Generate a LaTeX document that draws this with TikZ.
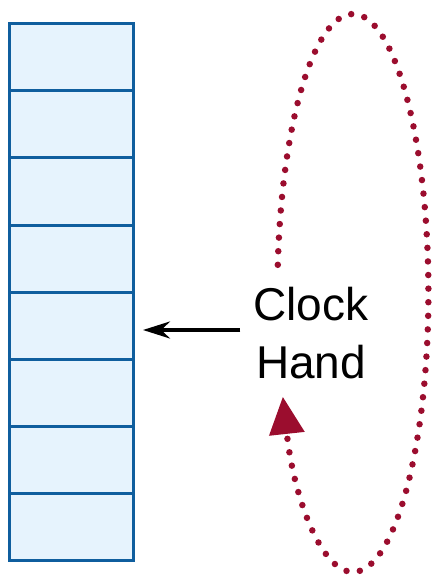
\documentclass[tikz,border=0pt]{standalone}
\usepackage{fontspec}
\setmainfont{Liberation Sans}
\usepackage{xcolor}
\usepackage{tikz}
\usetikzlibrary{positioning,arrows.meta,calc}
\definecolor{slotblue}{HTML}{0F5E9E}
\definecolor{slotfill}{HTML}{E6F3FD}
\definecolor{handred}{HTML}{9B0D2E}

\begin{document}
\begin{tikzpicture}[
  x=1pt, y=-1pt,
  slot/.style={rectangle, draw=slotblue, fill=slotfill, line width=3pt,
               minimum width=124pt, minimum height=67pt, outer sep=0pt,
               inner sep=0pt},
  handlabel/.style={align=center, inner xsep=13pt, inner ysep=0pt,
                    font=\fontsize{46}{58}\selectfont},
  dotpath/.style={draw=handred, line width=6.5pt, line cap=round,
                  dash pattern=on 0pt off 13.6pt},
  >=Stealth
]
  \useasboundingbox (0,0) rectangle (436,577);

  % the table of slots
  \node[slot, anchor=north west] (slot1) at (9,24) {};
  \foreach \i [count=\j from 1] in {2,...,8}
    \node[slot, below=0pt of slot\j] (slot\i) {};

  % hand and the pointer
  \node[handlabel] (hand) at (311,333) {Clock\\Hand};
  \draw[->, line width=3.5pt, shorten >=10pt,
        >={Stealth[length=27pt,width=17pt]}]
    ([yshift=3pt]hand.west) -- ([yshift=3pt]hand.west -| slot5.east);

  % the dotted loop round the hand
  \coordinate (loopstart) at (277.8,264.8);
  \draw[dotpath, -{Triangle[length=37pt,width=36pt,line width=0pt,fill=handred]}]
    (loopstart) arc[start angle=185.8, end angle=518.1,
                    x radius=75.5, y radius=279];
\end{tikzpicture}
\end{document}
